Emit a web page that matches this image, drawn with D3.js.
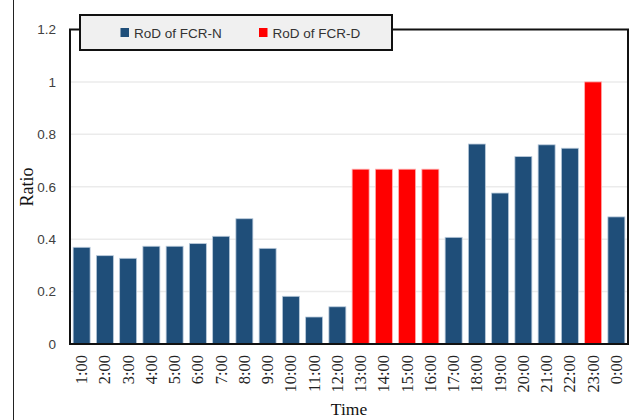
<!DOCTYPE html>
<html><head><meta charset="utf-8">
<script src="https://cdn.jsdelivr.net/npm/d3@7"></script>
<style>body{margin:0;background:#fff}svg{display:block}</style>
</head><body>
<script>
const categories = ["1:00","2:00","3:00","4:00","5:00","6:00","7:00","8:00","9:00","10:00","11:00","12:00","13:00","14:00","15:00","16:00","17:00","18:00","19:00","20:00","21:00","22:00","23:00","0:00"];
const values = [0.369,0.337,0.327,0.373,0.373,0.383,0.411,0.478,0.365,0.182,0.103,0.142,0.667,0.667,0.667,0.667,0.407,0.763,0.576,0.715,0.760,0.747,1.0,0.485];
const seriesOf = ["N","N","N","N","N","N","N","N","N","N","N","N","D","D","D","D","N","N","N","N","N","N","D","N"];
const seriesNames = {N:"RoD of FCR-N", D:"RoD of FCR-D"};
const seriesColors = {N:"#1f4e79", D:"#ff0000"};
const yTicks = [0,0.2,0.4,0.6,0.8,1,1.2];

const W=635,H=420;
const m={l:70,r:628,t:29.5,b:344};
const svg=d3.select("body").append("svg").attr("width",W).attr("height",H);

const x=d3.scaleBand().domain(categories).range([m.l,m.r]).paddingInner(0.27).paddingOuter(0.135);
const y=d3.scaleLinear().domain([0,1.2]).range([m.b,m.t]);

// outer left border
svg.append("line").attr("x1",13.5).attr("x2",13.5).attr("y1",0).attr("y2",H).attr("stroke","#222").attr("stroke-width",1);

// gridlines
svg.append("g").selectAll("line").data(yTicks.filter(d=>d>0&&d<1.2)).join("line")
  .attr("x1",m.l).attr("x2",m.r).attr("y1",d=>y(d)).attr("y2",d=>y(d))
  .attr("stroke","#ebebeb").attr("stroke-width",1.5);

// y axis labels
const yAxis=d3.axisLeft(y).tickValues(yTicks).tickSize(0).tickPadding(14).tickFormat(d=>d3.format("")(d));
const gy=svg.append("g").attr("transform",`translate(${m.l},0)`).call(yAxis);
gy.select(".domain").remove();
gy.selectAll("text").attr("font-family","'Liberation Sans',Arial,sans-serif").attr("font-size",13.5).attr("fill","#404040");

// bars
svg.append("g").selectAll("rect").data(values).join("rect")
  .attr("x",(d,i)=>x(categories[i])).attr("width",x.bandwidth())
  .attr("y",d=>y(d)).attr("height",d=>y(0)-y(d))
  .attr("fill",(d,i)=>seriesColors[seriesOf[i]])
  .attr("stroke",(d,i)=>seriesOf[i]==="N"?"#b9cadb":"#ffb0b0").attr("stroke-width",0.8);

// x axis labels
const xAxis=d3.axisBottom(x).tickSize(0).tickPadding(0);
const gx=svg.append("g").attr("transform",`translate(0,${m.b})`).call(xAxis);
gx.select(".domain").remove();
gx.selectAll("text").attr("font-family","'Liberation Serif','Times New Roman',serif").attr("font-size",16.5).attr("fill","#222")
  .attr("text-anchor","end").attr("dy","0.33em").attr("transform","translate(0,11) rotate(-90)").attr("x",0).attr("y",0);

// frame
svg.append("rect").attr("x",m.l).attr("y",m.t).attr("width",m.r-m.l).attr("height",m.b-m.t)
  .attr("fill","none").attr("stroke","#111").attr("stroke-width",2);

// legend
const lg=svg.append("g");
lg.append("rect").attr("x",80).attr("y",15).attr("width",312).attr("height",35)
  .attr("fill","#f0f0f0").attr("stroke","#111").attr("stroke-width",2);
const legendItems=[{k:"N",x:120.5},{k:"D",x:259}];
legendItems.forEach(it=>{
  lg.append("rect").attr("x",it.x).attr("y",28).attr("width",8.5).attr("height",9).attr("fill",seriesColors[it.k]);
  lg.append("text").attr("x",it.x+13.5).attr("y",37.5).text(seriesNames[it.k])
    .attr("font-family","'Liberation Sans',Arial,sans-serif").attr("font-size",13.5).attr("fill","#333");
});

// axis titles
svg.append("text").attr("transform","translate(33,187) rotate(-90)").attr("text-anchor","middle")
  .attr("font-family","'Liberation Serif','Times New Roman',serif").attr("font-size",18).attr("fill","#111").text("Ratio");
svg.append("text").attr("x",(m.l+m.r)/2).attr("y",415).attr("text-anchor","middle")
  .attr("font-family","'Liberation Serif','Times New Roman',serif").attr("font-size",17.5).attr("fill","#111").text("Time");
</script>
</body></html>
